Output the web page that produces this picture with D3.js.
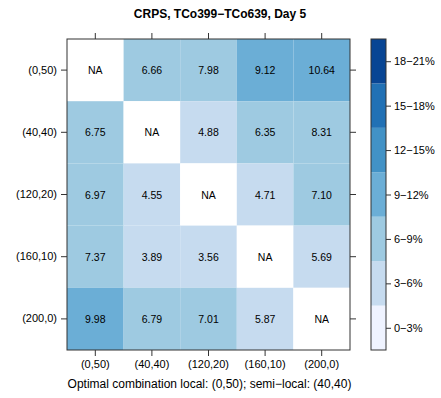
<!DOCTYPE html>
<html><head><meta charset="utf-8">
<script src="https://cdn.jsdelivr.net/npm/d3@7"></script>
<style>body{margin:0;background:#fff}svg{display:block}text{font-family:"Liberation Sans",Arial,sans-serif;fill:#000}</style>
</head><body><div id="chart"></div>
<script>
const title = "CRPS, TCo399\u2212TCo639, Day 5";
const xTitle = "Optimal combination local: (0,50); semi\u2212local: (40,40)";
const categories = ["(0,50)", "(40,40)", "(120,20)", "(160,10)", "(200,0)"];
const row0 = [null, 6.66, 7.98, 9.12, 10.64];
const row1 = [6.75, null, 4.88, 6.35, 8.31];
const row2 = [6.97, 4.55, null, 4.71, 7.10];
const row3 = [7.37, 3.89, 3.56, null, 5.69];
const row4 = [9.98, 6.79, 7.01, 5.87, null];
const rows = [row0, row1, row2, row3, row4];
const breaks = [0, 3, 6, 9, 12, 15, 18, 21];
const binLabels = ["0\u22123%", "3\u22126%", "6\u22129%", "9\u221212%", "12\u221215%", "15\u221218%", "18\u221221%"];
const colors = ["#EFF3FF", "#C6DBEF", "#9ECAE1", "#6BAED6", "#4292C6", "#2171B5", "#084594"];

const W = 441, H = 398;
const L = 67, R = 350, T = 39, B = 350;
const svg = d3.select("#chart").append("svg").attr("width", W).attr("height", H);

const x = d3.scaleBand().domain(categories).range([L, R]);
const y = d3.scaleBand().domain(categories).range([T, B]);
const color = d3.scaleThreshold().domain(breaks.slice(1, -1)).range(colors);

const cells = [];
rows.forEach((r, i) => r.forEach((v, j) => cells.push({row: categories[i], col: categories[j], v})));

svg.append("g").selectAll("rect").data(cells).join("rect")
  .attr("x", d => x(d.col)).attr("y", d => y(d.row))
  .attr("width", x.bandwidth()).attr("height", y.bandwidth())
  .attr("fill", d => d.v == null ? "#ffffff" : color(d.v));

svg.append("g").selectAll("text").data(cells).join("text")
  .attr("x", d => x(d.col) + x.bandwidth() / 2)
  .attr("y", d => y(d.row) + y.bandwidth() / 2)
  .attr("text-anchor", "middle").attr("dominant-baseline", "central")
  .style("font-size", "10.5px")
  .text(d => d.v == null ? "NA" : d.v.toFixed(2));

const axColor = "#333";
function styleAxis(g) {
  g.select(".domain").remove();
  g.selectAll(".tick line").attr("stroke", axColor);
  g.selectAll(".tick text").style("font-size", "11px").attr("fill", "#000");
}
svg.append("g").attr("transform", `translate(0,${B})`)
  .call(d3.axisBottom(x).tickSize(6).tickPadding(4)).call(styleAxis);
svg.append("g").attr("transform", `translate(0,${T})`)
  .call(d3.axisTop(x).tickSize(6).tickFormat("")).call(styleAxis);
svg.append("g").attr("transform", `translate(${L},0)`)
  .call(d3.axisLeft(y).tickSize(6).tickPadding(4)).call(styleAxis);
svg.append("g").attr("transform", `translate(${R},0)`)
  .call(d3.axisRight(y).tickSize(6).tickFormat("")).call(styleAxis);

svg.append("rect").attr("x", L).attr("y", T).attr("width", R - L).attr("height", B - T)
  .attr("fill", "none").attr("stroke", axColor).attr("stroke-width", 1);

svg.append("text").attr("x", 220).attr("y", 18).attr("text-anchor", "middle")
  .style("font-size", "12px").style("font-weight", "bold").text(title);
svg.append("text").attr("x", (L + R) / 2 + 1).attr("y", 388).attr("text-anchor", "middle")
  .style("font-size", "12px").text(xTitle);

// legend
const lx = 371, lw = 15;
const ly = d3.scaleLinear().domain([0, 21]).range([B, T]);
const leg = svg.append("g");
leg.selectAll("rect").data(colors).join("rect")
  .attr("x", lx).attr("width", lw)
  .attr("y", (c, i) => ly(breaks[i + 1])).attr("height", (c, i) => ly(breaks[i]) - ly(breaks[i + 1]))
  .attr("fill", c => c);
leg.append("rect").attr("x", lx).attr("y", T).attr("width", lw).attr("height", B - T)
  .attr("fill", "none").attr("stroke", axColor);
const mids = breaks.slice(0, -1).map((b, i) => (b + breaks[i + 1]) / 2);
const lAxis = d3.axisRight(ly).tickValues(mids).tickSize(5).tickPadding(3)
  .tickFormat((d, i) => binLabels[i]);
leg.append("g").attr("transform", `translate(${lx + lw},0)`).call(lAxis).call(styleAxis);
</script></body></html>
